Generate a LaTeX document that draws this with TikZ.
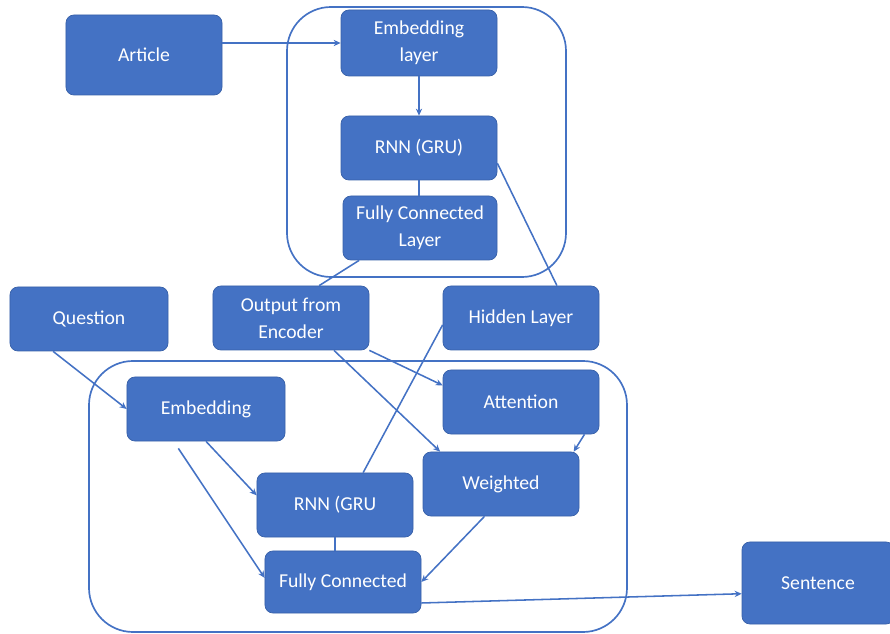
\documentclass[tikz,border=0pt]{standalone}
\usepackage{fontspec}
\setmainfont{Carlito}
\usepackage{xcolor}
\usepackage{tikz}
\usetikzlibrary{arrows.meta,positioning}
\definecolor{boxblue}{RGB}{68, 114, 196}
\definecolor{boxedge}{RGB}{55, 96, 168}
\definecolor{wireblue}{RGB}{68, 114, 196}

\tikzset{
  blk/.style={fill=boxblue, draw=boxedge, line width=0.5pt, rounded corners=2mm,
    text=white, align=center, font=\fontsize{14}{19}\selectfont,
    minimum width=39mm, minimum height=16mm, inner sep=2pt},
  wire/.style={draw=wireblue, line width=1.1pt},
  arr/.style={wire, -{Stealth[length=5pt,width=4.5pt]}},
  frame/.style={draw=wireblue, line width=1.2pt, rounded corners=11mm}
}

\begin{document}
\begin{tikzpicture}[x=0.25mm, y=-0.25mm]
  \useasboundingbox (0,0) rectangle (890,634);

  % encoder block
  \draw[frame] (287,7) rectangle (566,277);
  \node[blk, minimum height=20mm] (article) at (144,55) {Article};
  \node[blk, minimum height=16.5mm] (embl) at (419,43) {Embedding\\layer};
  \node[blk] (rnnA) at (419,148) {RNN (GRU)};
  \node[blk, minimum width=38.5mm] (fcA) at (420,228) {Fully Connected\\Layer};

  % middle row
  \node[blk, minimum width=39.5mm] (q) at (89,319) {Question};
  \node[blk] (out) at (291,318) {Output from\\Encoder};
  \node[blk] (hid) at (521,318) {Hidden Layer};

  % decoder block
  \draw[frame] (89,361) rectangle (627,632);
  \node[blk, minimum width=39.5mm] (emb) at (206,409) {Embedding};
  \node[blk] (att) at (521,402) {Attention};
  \node[blk] (wt) at (501,484) {Weighted};
  \node[blk] (rnnB) at (335,505) {RNN (GRU};
  \node[blk, minimum height=15.5mm] (fcB) at (343,582) {Fully Connected};
  \node[blk, minimum width=38mm, minimum height=20.5mm] (sen) at (818,583) {Sentence};

  % encoder connections
  \draw[arr] (article.east |- embl.west) -- (embl.west);
  \draw[arr] (embl.south) -- (rnnA.north);
  \draw[wire] (rnnA.south) -- (rnnA.south |- fcA.north);
  \draw[wire] (fcA.-152) -- (out.49);
  \draw[wire] (rnnA.-11) -- (hid.42);

  % decoder connections
  \draw[arr] (q.-138) -- (emb.west);
  \draw[arr] (out.south east) -- (att.168);
  \draw[arr] (out.-37) -- (wt.152);
  \draw[wire] (hid.185) -- (rnnB.49);
  \draw[arr] (emb.south) -- (rnnB.173);
  \draw[arr, shorten <=6pt] (emb.-135) -- (fcB.177);
  \draw[wire] (rnnB.south) -- (rnnB.south |- fcB.north);
  \draw[arr] (att.-27) -- (wt.24);
  \draw[arr] (wt.-117) -- (fcB.east);
  \draw[arr] (fcB.-15) -- (sen.188);
\end{tikzpicture}
\end{document}
